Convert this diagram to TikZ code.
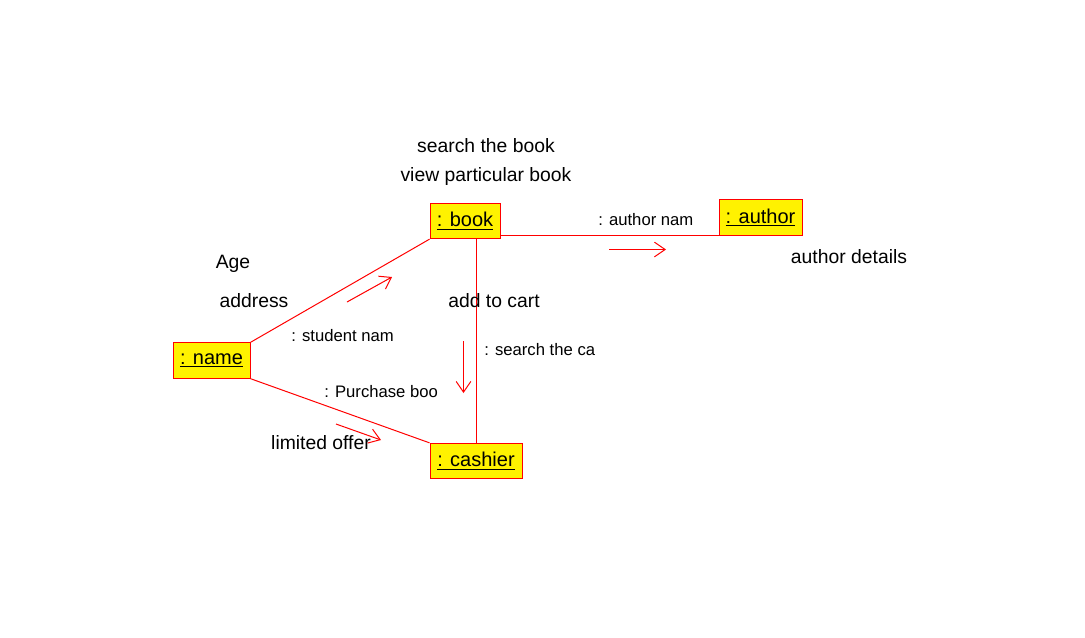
\documentclass[tikz,border=0pt]{standalone}
\usepackage{fontspec}
\setmainfont{Liberation Sans}
\usetikzlibrary{arrows.meta}
\tikzset{
  obj/.style={draw=red, line width=0.75pt, fill=yellow, minimum height=26.5pt, inner xsep=4pt,
    font=\fontsize{15}{17}\selectfont},
  lbl/.style={inner sep=0pt, font=\fontsize{14.5}{17}\selectfont},
  msg/.style={inner sep=0pt, anchor=west, font=\fontsize{12.5}{15}\selectfont},
  flow/.style={red, line width=0.75pt, -{Straight Barb[length=8pt,width=11pt]}},
}
\begin{document}
\begin{tikzpicture}[x=0.75pt,y=-0.75pt]
  \useasboundingbox (0,0) rectangle (1085,637);
  \draw
    (211.5,360.5) node[obj, minimum width=57.75pt] (name){\underline{: name}}
    (465,221) node[obj, minimum width=52.5pt] (book){\underline{: book}}
    (476,461) node[obj, minimum width=69pt] (cashier){\underline{: cashier}}
    (760.5,217.5) node[obj, minimum width=62.25pt] (author){\underline{: author}};
  \begin{scope}[-, red, line width=0.75pt]
    \draw (name.north east) to (book.south west);
    \draw (name.south east) to (cashier.north west);
    \draw (cashier.north) to (book.south -| cashier.north);
    \draw (author.south west) to (book.east |- author.south west);
  \end{scope}
  % labels
  \draw
    (486,146) node[lbl] (search){search the book}
    (486,176) node[lbl] (view){view particular book}
    (849,257) node[lbl] (details){author details}
    (233,264) node[lbl] (age){Age}
    (254,301) node[lbl] (address){address}
    (494,301) node[lbl] (cart){add to cart}
    (321,443) node[lbl] (offer){limited offer}
    (291,336) node[msg] (student){: student nam}
    (484,350) node[msg] (searchcart){: search the ca}
    (324,392) node[msg] (purchase){: Purchase boo}
    (598,220) node[msg] (authorname){: author nam};
  % messages
  \coordinate (s1) at (347,302); \coordinate (e1) at (392,277);
  \coordinate (s2) at (609,249.5); \coordinate (e2) at (666,249.5);
  \coordinate (s3) at (463.5,341); \coordinate (e3) at (463.5,393);
  \coordinate (s4) at (336,424); \coordinate (e4) at (381,440);
  \begin{scope}[flow]
    \draw (s1) to (e1);
    \draw (s2) to (e2);
    \draw (s3) to (e3);
    \draw (s4) to (e4);
  \end{scope}
\end{tikzpicture}
\end{document}
